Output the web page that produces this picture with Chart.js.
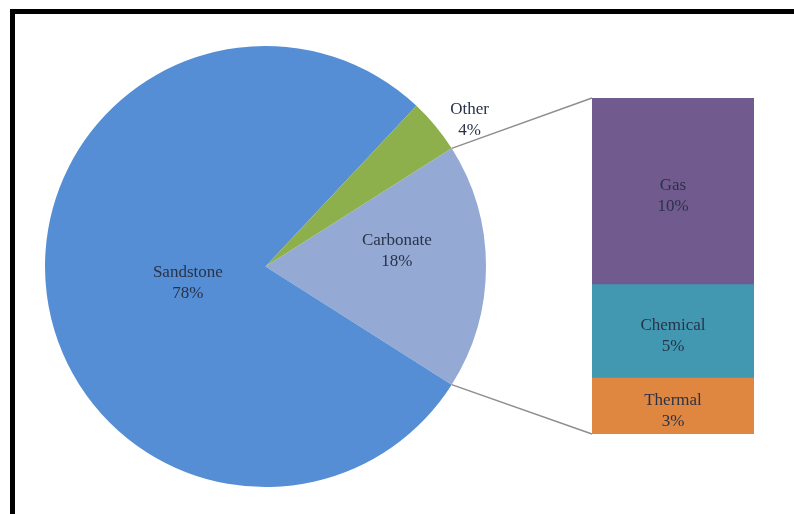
<!DOCTYPE html>
<html>
<head>
<meta charset="utf-8">
<script src="https://cdn.jsdelivr.net/npm/chart.js@4/dist/chart.umd.min.js"></script>
<style>
  html, body { margin: 0; padding: 0; background: #ffffff; }
  #wrap { position: relative; width: 794px; height: 514px; overflow: hidden; background: #ffffff; }
  #wrap canvas { position: absolute; left: 0; top: 0; }
  #frame { position: absolute; left: 10px; top: 9px; width: 900px; height: 700px;
           border-left: 5px solid #000; border-top: 5px solid #000; box-sizing: border-box; pointer-events: none; }
</style>
</head>
<body>
<div id="wrap">
  <canvas id="pie" width="794" height="514"></canvas>
  <canvas id="bar" width="794" height="514"></canvas>
  <div id="frame"></div>
</div>
<script>
// Reservoir types (share of total, %)
const pieLabels = ['Carbonate', 'Sandstone', 'Other'];
const pieValues = [18, 78, 4];
const pieColors = ['#95A9D5', '#558ED5', '#8DB04C'];

// Breakdown of the carbonate share, bottom to top
const barLabels = ['Thermal', 'Chemical', 'Gas'];
const barValues = [3, 5, 10];
const barColors = ['#DF8640', '#4298B0', '#705A8E'];

const FONT = '17px "Liberation Serif", "DejaVu Serif", serif';
const TEXT_COLOR = '#283349';
const LINE_GAP = 21;

function drawTwoLines(ctx, x, y, a, b) {
  ctx.save();
  ctx.font = FONT;
  ctx.fillStyle = TEXT_COLOR;
  ctx.textAlign = 'center';
  ctx.textBaseline = 'middle';
  ctx.fillText(a, x, y - LINE_GAP / 2);
  ctx.fillText(b, x, y + LINE_GAP / 2);
  ctx.restore();
}

// Slice labels: placed along each slice's mid angle
const pieLabelPlugin = {
  id: 'pieLabels',
  afterDatasetsDraw(chart, args, opts) {
    const ctx = chart.ctx;
    const meta = chart.getDatasetMeta(0);
    meta.data.forEach((arc, i) => {
      const mid = (arc.startAngle + arc.endAngle) / 2 + (opts.angleShift[i] || 0) * Math.PI / 180;
      const r = arc.outerRadius * opts.radiusFactor[i];
      const x = arc.x + Math.cos(mid) * r;
      const y = arc.y + Math.sin(mid) * r;
      drawTwoLines(ctx, x, y, chart.data.labels[i], chart.data.datasets[0].data[i] + '%');
    });
  }
};

const pieChart = new Chart(document.getElementById('pie'), {
  type: 'pie',
  data: {
    labels: pieLabels,
    datasets: [{ data: pieValues, backgroundColor: pieColors, borderWidth: 0 }]
  },
  options: {
    responsive: false,
    animation: false,
    devicePixelRatio: 1,
    rotation: 90 - (pieValues[0] / 100) * 180,
    layout: { padding: { left: 45, right: 308, top: 46, bottom: 27 } },
    plugins: {
      legend: { display: false },
      tooltip: { enabled: false },
      pieLabels: { radiusFactor: [0.6, 0.36, 1.14], angleShift: [-6.7, -4.8, 3.9] }
    }
  },
  plugins: [pieLabelPlugin]
});

// Connector lines from the split slice to the stacked bar, plus segment labels
const barPlugin = {
  id: 'barExtras',
  beforeDatasetsDraw(chart) {
    const arc = pieChart.getDatasetMeta(0).data[0];
    const top = chart.getDatasetMeta(chart.data.datasets.length - 1).data[0];
    const bottom = chart.getDatasetMeta(0).data[0];
    const left = top.x - top.width / 2;
    const ctx = chart.ctx;
    ctx.save();
    ctx.strokeStyle = '#8E8E8E';
    ctx.lineWidth = 1.5;
    ctx.beginPath();
    ctx.moveTo(arc.x + Math.cos(arc.startAngle) * arc.outerRadius, arc.y + Math.sin(arc.startAngle) * arc.outerRadius);
    ctx.lineTo(left, top.y);
    ctx.moveTo(arc.x + Math.cos(arc.endAngle) * arc.outerRadius, arc.y + Math.sin(arc.endAngle) * arc.outerRadius);
    ctx.lineTo(left, bottom.base);
    ctx.stroke();
    ctx.restore();
  },
  afterDatasetsDraw(chart) {
    const ctx = chart.ctx;
    chart.data.datasets.forEach((ds, i) => {
      const el = chart.getDatasetMeta(i).data[0];
      const cy = (el.y + el.base) / 2 + 5;
      drawTwoLines(ctx, el.x, cy, ds.label, ds.data[0] + '%');
    });
  }
};

new Chart(document.getElementById('bar'), {
  type: 'bar',
  data: {
    labels: ['Carbonate'],
    datasets: barLabels.map((name, i) => ({
      label: name,
      data: [barValues[i]],
      backgroundColor: barColors[i],
      borderWidth: 0,
      barPercentage: 1,
      categoryPercentage: 1
    }))
  },
  options: {
    responsive: false,
    animation: false,
    devicePixelRatio: 1,
    layout: { padding: { left: 592, right: 40, top: 98, bottom: 80 } },
    scales: {
      x: { display: false, stacked: true },
      y: { display: false, stacked: true, min: 0, max: barValues.reduce((a, b) => a + b, 0) }
    },
    plugins: { legend: { display: false }, tooltip: { enabled: false } }
  },
  plugins: [barPlugin]
});
</script>
</body>
</html>
